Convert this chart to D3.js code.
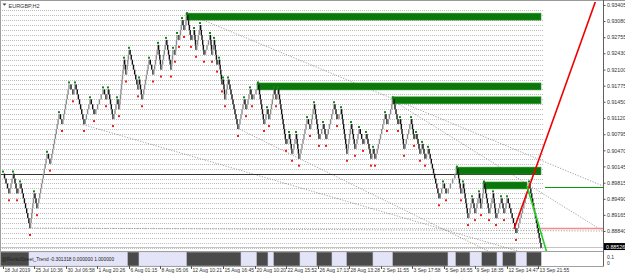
<!DOCTYPE html>
<html>
<head>
<meta charset="utf-8">
<script src="https://cdn.jsdelivr.net/npm/d3@7"></script>
<style>
body { margin: 0; background: #fff; }
svg { display: block; font-family: "Liberation Sans", Arial, sans-serif; }
</style>
</head>
<body>
<div id="chart"></div>
<script>
// renko swing points: [bar, price]
const pivots = [
  [2, .900], [8, .896], [12, .900], [16, .896], [19, .898], [29, .889], [33, .896], [36, .893],
  [46, .904], [49, .902], [58, .912], [61, .910], [68, .918], [72, .916], [74, .918], [83, .910],
  [89, .915], [93, .912], [102, .917], [105, .915], [107, .917], [112, .911], [116, .915], [118, .913],
  [123, .923], [125, .920], [128, .925], [137, .917], [138, .919], [141, .915], [148, .923], [152, .920],
  [157, .926], [160, .921], [165, .927], [170, .921], [172, .925], [174, .924], [176, .928], [178, .927],
  [181, .931], [183, .929], [186, .932],
  [190, .927], [193, .929], [195, .925], [199, .930], [203, .924], [209, .928], [211, .924], [213, .927],
  [216, .922], [218, .923], [221, .918], [222, .919], [224, .915], [227, .919], [237, .909],
  [243, .915], [245, .913], [249, .917], [251, .915], [257, .918],
  [263, .910], [266, .913], [268, .911], [273, .917], [275, .915], [277, .917], [285, .906], [288, .908],
  [291, .904], [295, .908], [298, .903], [306, .911], [309, .909], [313, .914], [318, .907], [322, .910],
  [325, .907], [333, .914], [336, .911], [340, .913], [346, .904], [350, .910],
  [354, .905], [358, .909], [362, .906], [365, .908], [370, .903], [372, .905], [374, .903], [384, .912],
  [386, .910], [392, .915],
  [397, .910], [399, .911], [403, .905], [410, .911], [413, .907], [415, .908], [419, .904], [421, .906],
  [424, .903], [427, .905], [438, .895], [442, .898], [445, .896], [456, .901],
  [460, .896], [462, .898], [467, .891], [471, .895], [474, .892], [478, .896], [480, .893], [483, .898],
  [488, .892], [492, .896], [495, .891], [500, .895], [503, .892], [506, .895], [515, .888], [528, .898],
  [540, .885]
];
const brickSize = 0.001;

// supply zones: [fromBar, toBar, top, bottom]
const zones = [
  [185, 540, 0.9324, 0.9310],
  [256, 540, 0.9183, 0.9169],
  [391, 540, 0.9155, 0.9141],
  [455, 540, 0.9013, 0.8999],
  [482, 526, 0.8983, 0.8969]
];

// dotted trend lines: [bar1, price1, bar2, price2]
const dottedLines = [
  [185, 0.93244, 602, 0.89749],
  [391, 0.91486, 602, 0.88840],
  [236, 0.90921, 489, 0.88416],
  [82, 0.90990, 520, 0.88416],
  [28, 0.88901, 602, 0.88840]
];

const redLine = [513, 0.8888, 595, 0.93506];
const greenLine = [526, 0.89749, 546, 0.88396];
const greenLevel = [544, 602, 0.89729];
const redLevel = [540, 602, 0.88890];
const blackLevel = [0, 540, 0.90000];
const bid = 0.88526;

// trend indicator: [fromBar, toBar, direction]
const trend = [
  [0, 28, -1], [28, 127, 1], [127, 138, -1], [138, 186, 1], [186, 240, -1], [240, 256, 1],
  [256, 267, -1], [267, 273, 1], [273, 299, -1], [299, 316, 1], [316, 331, -1], [331, 346, 1],
  [346, 372, -1], [372, 392, 1], [392, 447, -1], [447, 455, 1], [455, 469, -1], [469, 481, 1],
  [481, 496, -1], [496, 502, 1], [502, 515, -1], [515, 526, 1], [526, 540, -1]
];

const priceTicks = [0.93405, 0.93080, 0.92755, 0.92430, 0.92100, 0.91775, 0.91450, 0.91120,
  0.90795, 0.90470, 0.90145, 0.89815, 0.89490, 0.89165, 0.88840];
const timeTicks = [2, 33, 65, 96, 128, 159, 190, 222, 254, 285, 317, 348, 380, 411, 443, 474, 506, 537];
const timeLabels = ["18 Jul 2019", "25 Jul 10:36", "30 Jul 06:58", "1 Aug 20:26", "6 Aug 01:15",
  "8 Aug 05:06", "12 Aug 10:21", "15 Aug 16:45", "20 Aug 10:20", "22 Aug 15:52", "26 Aug 17:13",
  "28 Aug 13:28", "2 Sep 11:55", "3 Sep 17:58", "5 Sep 16:55", "9 Sep 18:35", "12 Sep 14:47",
  "13 Sep 21:55"];

const width = 625, height = 275;
const right = 603, mainTop = 2, mainBottom = 251, subTop = 252, subBottom = 266;

const svg = d3.select("#chart").append("svg")
  .attr("width", width).attr("height", height);

const x = d3.scaleLinear().domain([0, 540]).range([1, 541]);
const y = d3.scaleLinear().domain([0.88840, 0.93405]).range([231, 5]);
const snap = v => Math.round(v) + 0.5;

svg.append("clipPath").attr("id", "main")
  .append("rect").attr("x", 0).attr("y", mainTop).attr("width", right).attr("height", mainBottom - mainTop);

const g = svg.append("g").attr("clip-path", "url(#main)");

// renko brick grid
const levels = d3.range(0.885, 0.9335, brickSize);
g.selectAll(".lvl").data(levels).enter().append("line")
  .attr("x1", x(0) - 1).attr("x2", x(542))
  .attr("y1", d => snap(y(d))).attr("y2", d => snap(y(d)))
  .attr("stroke", "#bdbdbd").attr("stroke-dasharray", "1,1");

// bid line
g.append("line").attr("x1", 0).attr("x2", right)
  .attr("y1", snap(y(bid))).attr("y2", snap(y(bid)))
  .attr("stroke", "#c4c4c4");

// dotted trend lines
g.selectAll(".tl").data(dottedLines).enter().append("line")
  .attr("x1", d => x(d[0])).attr("y1", d => y(d[1]))
  .attr("x2", d => x(d[2])).attr("y2", d => y(d[3]))
  .attr("stroke", "#8a8a8a").attr("stroke-width", 0.8).attr("stroke-dasharray", "1.2,1.5");

// black level
g.append("line").attr("x1", x(blackLevel[0])).attr("x2", x(blackLevel[1]))
  .attr("y1", snap(y(blackLevel[2]))).attr("y2", snap(y(blackLevel[2])))
  .attr("stroke", "#333");

// zones
g.selectAll(".zone").data(zones).enter().append("rect")
  .attr("x", d => x(d[0])).attr("width", d => x(d[1]) - x(d[0]))
  .attr("y", d => y(d[2])).attr("height", d => y(d[3]) - y(d[2]))
  .attr("fill", "#0a770a").attr("stroke", "#2f962f").attr("stroke-width", 0.6);

// bricks
const bricks = [];
for (let i = 1; i < pivots.length; i++) {
  const [b0, p0] = pivots[i - 1], [b1, p1] = pivots[i];
  const n = Math.round(Math.abs(p1 - p0) / brickSize);
  const dir = Math.sign(p1 - p0);
  for (let k = 1; k <= n; k++) {
    const a = p0 + dir * (k - 1) * brickSize, b = p0 + dir * k * brickSize;
    bricks.push({ bar: b0 + (b1 - b0) * k / n, hi: Math.max(a, b), lo: Math.min(a, b), up: dir > 0 });
  }
}
g.selectAll(".brick").data(bricks).enter().append("rect")
  .attr("x", d => x(d.bar) - 0.7).attr("width", 1.4)
  .attr("y", d => y(d.hi)).attr("height", d => y(d.lo) - y(d.hi))
  .attr("fill", d => d.up ? "#8c8c8c" : "#111");

// swing dots
const swings = pivots.map((d, i) => {
  const prev = pivots[i - 1], next = pivots[i + 1];
  const high = (prev ? d[1] > prev[1] : true) && (next ? d[1] > next[1] : true);
  return { bar: d[0], price: d[1], high };
}).slice(0, -1);
g.selectAll(".dot").data(swings).enter().append("rect")
  .attr("x", d => x(d.bar) - 1).attr("width", 2).attr("height", 2)
  .attr("y", d => d.high ? y(d.price) - 3 : y(d.price - brickSize) + 1)
  .attr("fill", d => d.high ? "#118a11" : "#f01c1c");

// levels on the right
g.append("line").attr("x1", x(redLevel[0])).attr("x2", x(redLevel[1]))
  .attr("y1", y(redLevel[2])).attr("y2", y(redLevel[2]))
  .attr("stroke", "#f48a8a").attr("stroke-width", 1.5);
g.append("line").attr("x1", x(greenLevel[0])).attr("x2", x(greenLevel[1]))
  .attr("y1", snap(y(greenLevel[2]))).attr("y2", snap(y(greenLevel[2])))
  .attr("stroke", "#00a000").attr("stroke-width", 1.2);

// red and green rays
g.append("line").attr("x1", x(redLine[0])).attr("y1", y(redLine[1]))
  .attr("x2", x(redLine[2])).attr("y2", y(redLine[3]))
  .attr("stroke", "#ee0000").attr("stroke-width", 1.6);
g.append("line").attr("x1", x(greenLine[0])).attr("y1", y(greenLine[1]))
  .attr("x2", x(greenLine[2])).attr("y2", y(greenLine[3]))
  .attr("stroke", "#22cc22").attr("stroke-width", 1.6);

// sub window: trend blocks
svg.selectAll(".tr").data(trend).enter().append("rect")
  .attr("x", d => x(d[0])).attr("width", d => x(d[1]) - x(d[0]))
  .attr("y", subTop + 0.5).attr("height", subBottom - subTop - 1)
  .attr("fill", d => d[2] > 0 ? "#e4e4f8" : "#4a4a4a")
  .attr("stroke", d => d[2] > 0 ? "#d0d0e6" : "#4a4a4a").attr("stroke-width", 0.6);

svg.append("text").attr("x", 2).attr("y", 260.5)
  .attr("font-size", 4.8).attr("fill", "#222")
  .text("@RenkoStreet_Trend -0.301318 0.000000 1.000000");

// frames
svg.append("rect").attr("x", 0.5).attr("y", 0.5).attr("width", right).attr("height", subBottom)
  .attr("fill", "none").attr("stroke", "#a0a0a0");
svg.append("line").attr("x1", 0).attr("x2", right).attr("y1", mainBottom + 0.5).attr("y2", mainBottom + 0.5)
  .attr("stroke", "#a0a0a0");
svg.append("line").attr("x1", 0).attr("x2", width).attr("y1", 0.5).attr("y2", 0.5)
  .attr("stroke", "#9a9a9a");
svg.append("line").attr("x1", right + 0.5).attr("x2", right + 0.5).attr("y1", 0).attr("y2", subBottom)
  .attr("stroke", "#606060");

// title
svg.append("path").attr("d", "M2.5,3.5 L6.5,3.5 L4.5,5.8 Z").attr("fill", "#444");
svg.append("text").attr("x", 8.5).attr("y", 7.5).attr("font-size", 5.5).attr("fill", "#333")
  .text("EURGBP,H2");

// price axis
const yAxis = d3.axisRight(y).tickValues(priceTicks).tickSize(2).tickFormat(d => d.toFixed(5));
const ya = svg.append("g").attr("transform", `translate(${right + 0.5},0)`).call(yAxis);
ya.select(".domain").remove();
ya.selectAll("line").attr("stroke", "#555");
ya.selectAll("text").attr("font-size", 5.3).attr("fill", "#333").attr("x", 3.5)
  .attr("font-family", "Liberation Sans, Arial, sans-serif");

// bid label
svg.append("rect").attr("x", right + 1).attr("y", y(bid) - 3.5).attr("width", 21).attr("height", 7)
  .attr("fill", "#000");
svg.append("text").attr("x", right + 3).attr("y", y(bid) + 2).attr("font-size", 5.3).attr("fill", "#fff")
  .text(bid.toFixed(5));

// sub window scale
svg.append("text").attr("x", right + 4).attr("y", 259).attr("font-size", 5).attr("fill", "#333").text("0.1");
svg.append("text").attr("x", right + 4).attr("y", 264.5).attr("font-size", 5).attr("fill", "#333").text("0");

// time axis
const xt = svg.append("g");
xt.selectAll("line").data(timeTicks).enter().append("line")
  .attr("x1", d => snap(x(d))).attr("x2", d => snap(x(d)))
  .attr("y1", subBottom).attr("y2", subBottom + 3).attr("stroke", "#555");
xt.selectAll("text").data(timeTicks).enter().append("text")
  .attr("x", d => x(d) + 1.5).attr("y", 272)
  .attr("font-size", 5).attr("fill", "#333")
  .text((d, i) => timeLabels[i]);
</script>
</body>
</html>
